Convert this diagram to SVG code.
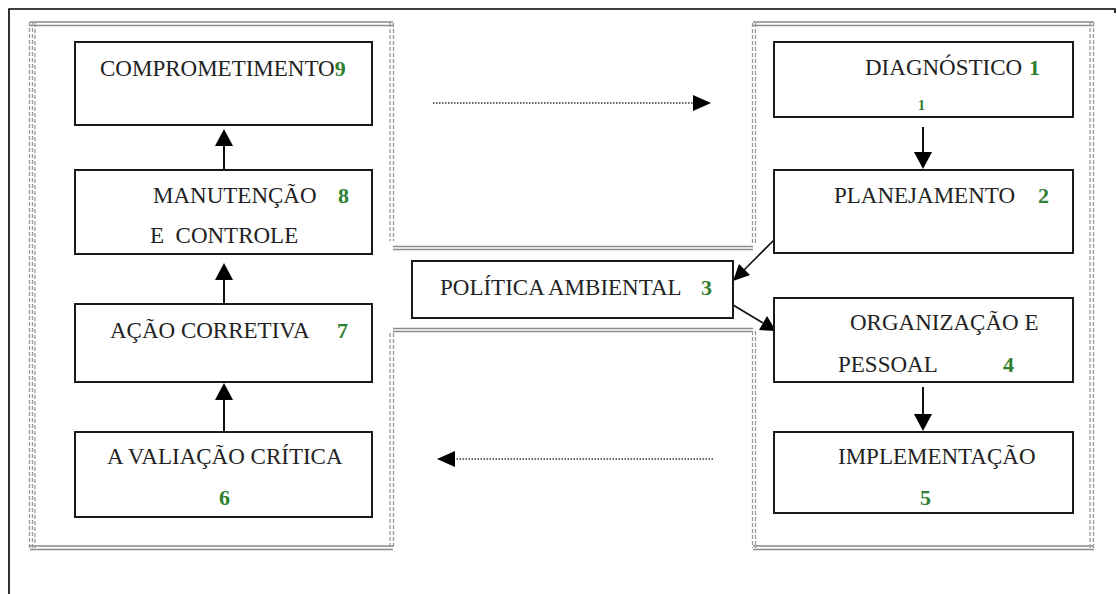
<svg xmlns="http://www.w3.org/2000/svg" width="1117" height="594" viewBox="0 0 1117 594">
<style>
.box{fill:#fff;stroke:#1a1a1a;stroke-width:2}
.t{font-family:"Liberation Serif","Times New Roman",serif;font-size:23px;fill:#222;white-space:pre}
.n{font-family:"Liberation Serif","Times New Roman",serif;font-size:22px;font-weight:bold;fill:#2f8030}
.fr{fill:none;stroke:#8a8a8a;stroke-width:1.3}
.frd{fill:none;stroke:#9a9a9a;stroke-width:1.3;stroke-dasharray:4 2}
.con{stroke:#111;stroke-width:2;fill:none}
.dot{stroke:#333;stroke-width:1.5;stroke-dasharray:1.5 1.5;fill:none}
.head{fill:#000}
</style>
<rect width="1117" height="594" fill="#fff"/>
<g id="page-border">
<path d="M9,594 V9 H1115 V13" fill="none" stroke="#000" stroke-width="1.6"/>
</g>
<g id="frames">
<path class="fr" d="M30,22 H393 M30,25.5 H393"/>
<path class="fr" d="M30,546 H393 M30,549.5 H393"/>
<path class="frd" d="M29.5,22 V549 M32.5,22 V549 M35,23 V548"/>
<path class="frd" d="M390,23 V241 M393.5,23 V241 M390,333 V548 M393.5,333 V548"/>
<path class="fr" d="M393,246.5 H753 M393,249.5 H753"/>
<path class="fr" d="M393,328.5 H753 M393,331.5 H753"/>
<path class="fr" d="M753,22 H1094 M753,25.5 H1094"/>
<path class="fr" d="M753,546 H1094 M753,549.5 H1094"/>
<path class="frd" d="M752.5,23 V245 M755.5,23 V245 M752.5,331 V548 M755.5,331 V548"/>
<path class="frd" d="M1090,22 V549 M1093.5,22 V549"/>
</g>
<g id="connectors">
<line class="con" x1="224" y1="170" x2="224" y2="144"/>
<polygon class="head" points="224,129 215,146 233,146"/>
<line class="con" x1="224" y1="304" x2="224" y2="278"/>
<polygon class="head" points="224,263 215,280 233,280"/>
<line class="con" x1="224" y1="432" x2="224" y2="398"/>
<polygon class="head" points="224,383 215,400 233,400"/>
<line class="con" x1="923" y1="127" x2="923" y2="154"/>
<polygon class="head" points="923,169 914,152 932,152"/>
<line class="con" x1="923" y1="387" x2="923" y2="416"/>
<polygon class="head" points="923,431 914,414 932,414"/>
<line x1="775" y1="239" x2="743" y2="271" stroke="#111" stroke-width="1.6"/>
<polygon class="head" points="733,281 739,264 750,275"/>
<line x1="733" y1="305" x2="763" y2="323" stroke="#111" stroke-width="1.6"/>
<polygon class="head" points="776,331 759,330 767,316"/>
<line class="dot" x1="433" y1="103" x2="694" y2="103"/>
<polygon class="head" points="711,103 693,95 693,111"/>
<line class="dot" x1="713" y1="459" x2="453" y2="459"/>
<polygon class="head" points="437,459 455,451 455,467"/>
</g>
<g id="node9">
<rect class="box" x="75" y="42" width="297" height="83"/>
<text class="t" x="100" y="76">COMPROMETIMENTO<tspan class="n">9</tspan></text>
</g>
<g id="node8">
<rect class="box" x="75" y="170" width="297" height="84"/>
<text class="t" x="153" y="203">MANUTENÇÃO</text>
<text class="n" x="338" y="203">8</text>
<text class="t" x="150" y="243">E  CONTROLE</text>
</g>
<g id="node7">
<rect class="box" x="75" y="304" width="297" height="78"/>
<text class="t" x="110" y="338">AÇÃO CORRETIVA</text>
<text class="n" x="337" y="338">7</text>
</g>
<g id="node6">
<rect class="box" x="75" y="432" width="297" height="85"/>
<text class="t" x="107" y="464">A VALIAÇÃO CRÍTICA</text>
<text class="n" x="219" y="505">6</text>
</g>
<g id="node1">
<rect class="box" x="774" y="42" width="299" height="75"/>
<text class="t" x="865" y="75">DIAGNÓSTICO</text>
<text class="n" x="1029" y="75">1</text>
<text class="n" x="918" y="110" style="font-size:14px">1</text>
</g>
<g id="node2">
<rect class="box" x="774" y="170" width="299" height="83"/>
<text class="t" x="834" y="203">PLANEJAMENTO</text>
<text class="n" x="1038" y="203">2</text>
</g>
<g id="node3">
<rect class="box" x="412" y="261" width="321" height="57"/>
<text class="t" x="440" y="295">POLÍTICA AMBIENTAL</text>
<text class="n" x="701" y="295">3</text>
</g>
<g id="node4">
<rect class="box" x="774" y="298" width="299" height="84"/>
<text class="t" x="850" y="330">ORGANIZAÇÃO E</text>
<text class="t" x="838" y="372">PESSOAL</text>
<text class="n" x="1003" y="372">4</text>
</g>
<g id="node5">
<rect class="box" x="774" y="432" width="299" height="81"/>
<text class="t" x="838" y="464">IMPLEMENTAÇÃO</text>
<text class="n" x="920" y="505">5</text>
</g>
</svg>
